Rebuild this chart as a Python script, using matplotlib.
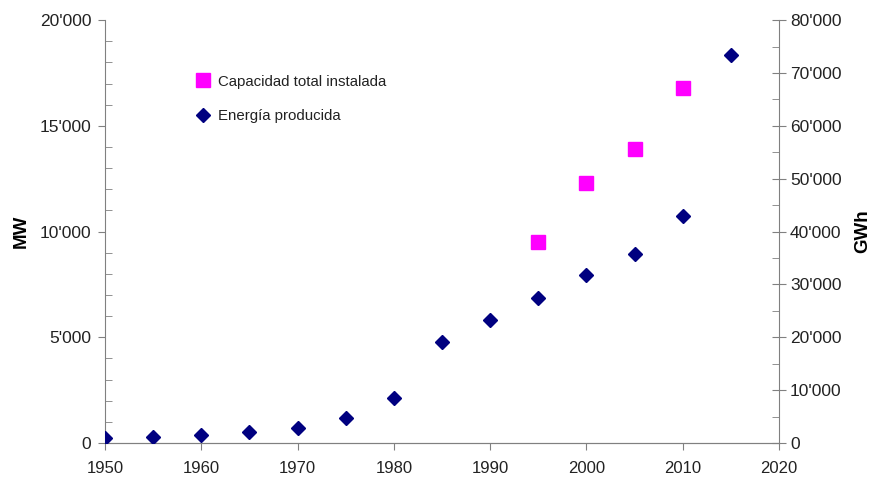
import matplotlib.pyplot as plt
from matplotlib.ticker import FuncFormatter, MultipleLocator

plt.rcParams['font.family'] = ['Liberation Sans', 'DejaVu Sans']

# installed capacity (MW, left axis)
cap_years = [1995, 2000, 2005, 2010]
cap_mw = [9500, 12300, 13900, 16800]

# energy produced (GWh, right axis)
en_years = [1950, 1955, 1960, 1965, 1970, 1975, 1980, 1985, 1990, 1995, 2000, 2005, 2010, 2015]
en_gwh = [950, 1150, 1500, 2080, 2850, 4750, 8500, 19100, 23250, 27400, 31800, 35750, 42900, 73400]

axcol = '#808080'
txtcol = '#222222'

def fmt(v, pos):
    return "{:,}".format(int(v)).replace(',', "'")

fig = plt.figure(figsize=(8.73, 4.78), dpi=100)
ax = fig.add_axes([0.1203, 0.0732, 0.772, 0.8848])
ax2 = ax.twinx()

l1, = ax.plot(cap_years, cap_mw, 's', color='#ff00ff', ms=9.5, ls='none',
              label='Capacidad total instalada', zorder=3)
l2, = ax2.plot(en_years, en_gwh, 'D', color='#000080', ms=7, ls='none',
               label='Energía producida', zorder=3)

ax.set_xlim(1950, 2020)
ax.set_ylim(0, 20000)
ax2.set_ylim(0, 80000)
ax.xaxis.set_major_locator(MultipleLocator(10))
ax.yaxis.set_major_locator(MultipleLocator(5000))
ax.yaxis.set_minor_locator(MultipleLocator(1000))
ax2.yaxis.set_major_locator(MultipleLocator(10000))
ax2.yaxis.set_minor_locator(MultipleLocator(5000))
ax.yaxis.set_major_formatter(FuncFormatter(fmt))
ax2.yaxis.set_major_formatter(FuncFormatter(fmt))

for a in (ax, ax2):
    a.spines['top'].set_visible(False)
    for s in a.spines.values():
        s.set_color(axcol)
ax.spines['right'].set_visible(False)
ax2.spines['left'].set_visible(False)

ax.tick_params(axis='x', which='major', direction='out', length=5, color=axcol,
               labelsize=12, labelcolor=txtcol, pad=8)
ax.tick_params(axis='y', which='major', direction='out', length=5, color=axcol,
               labelsize=12.5, labelcolor=txtcol, pad=5)
ax.tick_params(axis='y', which='minor', direction='in', length=5, color=axcol)
ax2.tick_params(axis='y', which='major', direction='inout', length=10, color=axcol,
                labelsize=12.5, labelcolor=txtcol, pad=3)
ax2.tick_params(axis='y', which='minor', direction='in', length=5, color=axcol)

ax.set_ylabel('MW', fontsize=13.5, fontweight='bold', labelpad=7)
ax2.set_ylabel('GWh', fontsize=13.5, fontweight='bold', rotation=90, labelpad=9)

fig.legend(handles=[l1, l2], loc='upper left', bbox_to_anchor=(0.207, 0.872),
           frameon=False, fontsize=10.8, handletextpad=0.4, labelspacing=1.35,
           handlelength=1.2, labelcolor=txtcol)

fig.savefig('out.png', dpi=100)
